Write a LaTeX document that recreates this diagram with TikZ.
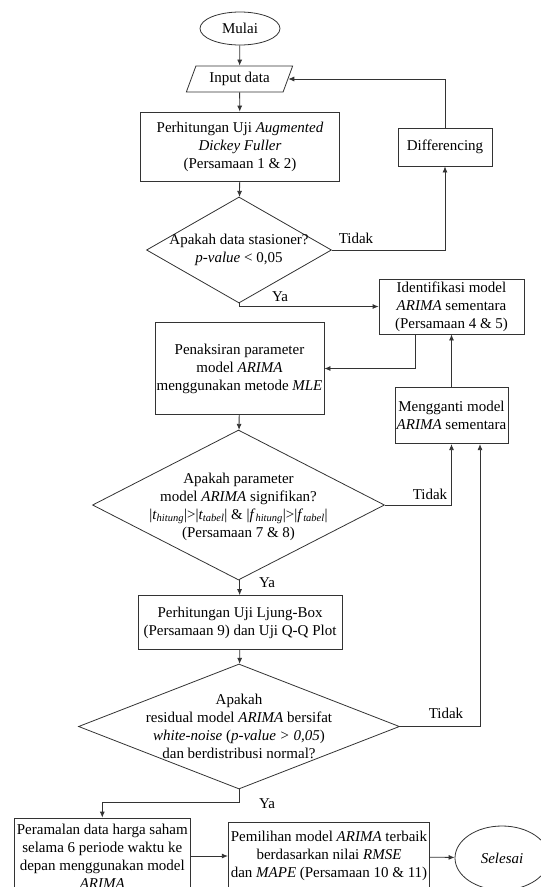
\documentclass[tikz,border=0pt]{standalone}
\usepackage{fontspec}
\setmainfont{Liberation Serif}
\usetikzlibrary{arrows.meta,shapes}
\newcommand{\fsz}{\fontsize{15}{18}\selectfont}
\newcommand{\lw}{0.8pt}

\begin{document}
\begin{tikzpicture}[x=1pt,y=-1pt]
    \tikzset{base/.style={draw=black!80, line width=\lw, font=\fsz, align=center, inner sep=0pt},
        proc/.style={base, rectangle},
        term/.style={base, ellipse},
        io/.style={base, trapezium, trapezium left angle=64, trapezium right angle=116, trapezium stretches=true},
        dec/.style={base, diamond},
        lbl/.style={font=\fsz, inner sep=0pt, align=center},
        arr/.style={draw=black!80, line width=\lw, -{Latex[length=6pt,width=5pt]}}}
    \useasboundingbox (0,0) rectangle (541,887);
    \node[term, minimum width=80pt, minimum height=33pt] (mulai) at (240,28.5) {Mulai};
    \node[io, minimum width=107pt, minimum height=26pt] (input) at (239.5,79) {Input data};
    \node[proc, minimum width=199pt, minimum height=69pt] (adf) at (240,146.5)
        {Perhitungan Uji \textit{Augmented}\\ \textit{Dickey Fuller}\\ (Persamaan 1 \& 2)};
    \node[dec, minimum width=185pt, minimum height=106pt] (d1) at (239,250) {};
    \node[lbl] (d1txt) at (d1) {Apakah data stasioner?\\ \textit{p-value} < 0,05};
    \node[proc, minimum width=94pt, minimum height=38pt] (diff) at (445,147) {Differencing};
    \node[proc, minimum width=145pt, minimum height=55pt] (ident) at (451.5,306.5)
        {Identifikasi model\\ \textit{ARIMA} sementara\\ (Persamaan 4 \& 5)};
    \node[proc, minimum width=169pt, minimum height=92pt] (penak) at (239.5,368.5)
        {Penaksiran parameter\\ model \textit{ARIMA}\\ menggunakan metode \textit{MLE}};
    \node[proc, minimum width=113pt, minimum height=56pt] (ganti) at (451.5,415.7)
        {Mengganti model\\ \textit{ARIMA} sementara};
    \node[dec, minimum width=292pt, minimum height=150pt] (d2) at (238.5,505) {};
    \node[lbl] (d2txt) at (238.5,507) {Apakah parameter\\ model \textit{ARIMA} signifikan?\\
        |\textit{t}\textsubscript{\textit{hitung}}|>|\textit{t}\textsubscript{\textit{tabel}}| \&
        |\textit{f}\textsubscript{\textit{hitung}}|>|\textit{f}\textsubscript{\textit{tabel}}|\\
        (Persamaan 7 \& 8)};
    \node[proc, minimum width=204pt, minimum height=54pt] (ljung) at (240,622.5)
        {Perhitungan Uji Ljung-Box\\ (Persamaan 9) dan Uji Q-Q Plot};
    \node[dec, minimum width=321pt, minimum height=125pt] (d3) at (239,726.5) {};
    \node[lbl] (d3txt) at (d3) {Apakah\\ residual model \textit{ARIMA} bersifat\\
        \textit{white-noise} (\textit{p-value > 0,05})\\ dan berdistribusi normal?};
    \node[proc, minimum width=175.4pt, minimum height=76pt] (ramal) at (102.3,856)
        {Peramalan data harga saham\\ selama 6 periode waktu ke\\ depan menggunakan model\\ \textit{ARIMA}};
    \node[proc, minimum width=201.5pt, minimum height=68pt] (pilih) at (329,856)
        {Pemilihan model \textit{ARIMA} terbaik\\ berdasarkan nilai \textit{RMSE}\\ dan \textit{MAPE} (Persamaan 10 \& 11)};
    \node[term, minimum width=94pt, minimum height=64pt] (selesai) at (502,858) {\textit{Selesai}};
    \node[lbl] (tidak1) at (356,238) {Tidak};
    \node[lbl] (tidak2) at (430,494) {Tidak};
    \node[lbl] (tidak3) at (446,713) {Tidak};
    \node[lbl] (ya1) at (280,297) {Ya};
    \node[lbl] (ya2) at (267,583) {Ya};
    \node[lbl] (ya3) at (267,804) {Ya};
    \draw[arr] (mulai) -- (input);
    \draw[arr] (input) -- (adf);
    \draw[arr] (adf) -- (d1);
    \draw[arr] (d1.east) -| (diff.south);
    \draw[arr] (diff.north) |- (input.east);
    \draw[arr] (d1.south) |- (ident.west);
    \draw[arr] ([xshift=-36.5pt]ident.south) |- (penak.east);
    \draw[arr] (ganti) -- (ident);
    \draw[arr] (penak) -- (d2);
    \draw[arr] (d2.east) -| (ganti.south);
    \draw[arr] (d2) -- (ljung);
    \draw[arr] (ljung) -- (d3);
    \draw[arr] (d3.east) -| ([xshift=28.5pt]ganti.south);
    \draw[arr] (d3.south) -- ++(0,13) -| (ramal.north);
    \draw[arr] (ramal) -- (pilih);
    \draw[arr] (pilih) -- (selesai);
\end{tikzpicture}
\end{document}
